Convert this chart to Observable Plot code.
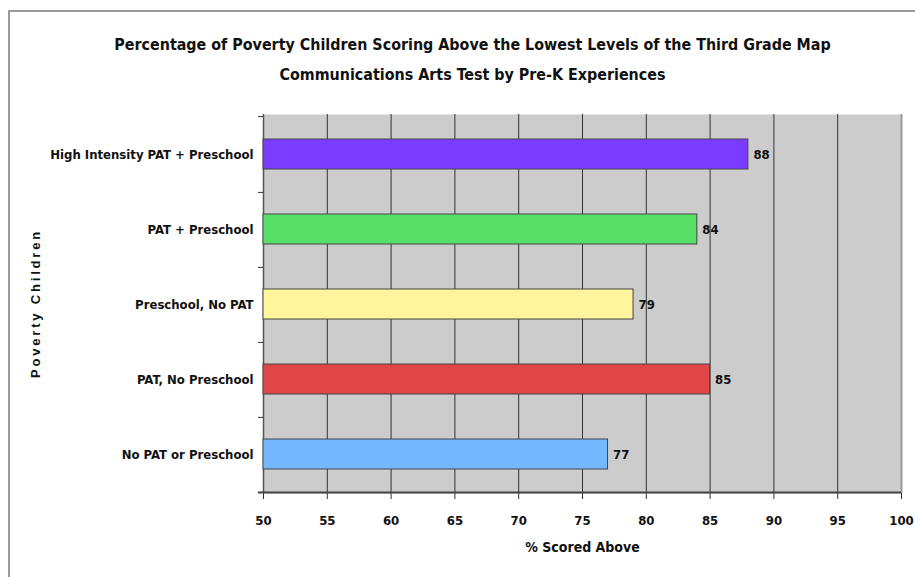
<!DOCTYPE html>
<html>
<head>
<meta charset="utf-8">
<script src="https://cdn.jsdelivr.net/npm/d3@7"></script>
<script src="https://cdn.jsdelivr.net/npm/@observablehq/plot@0.6"></script>
<style>
  html, body { margin: 0; padding: 0; background: #fff; }
  #wrap { position: relative; width: 915px; height: 577px; overflow: hidden; background: #fff; }
  #frame { position: absolute; left: 8px; top: 10px; width: 1000px; height: 700px;
           border-left: 2px solid #9a9a9a; border-top: 2px solid #9a9a9a; box-sizing: border-box; }
  #title { position: absolute; left: 0; width: 945px; top: 30px; text-align: center;
           font-family: "Liberation Sans Narrow", "Arial Narrow", "DejaVu Sans Condensed", sans-serif;
           font-weight: bold; font-size: 15.9px; line-height: 30px; color: #111; }
  #chart { position: absolute; left: 0; top: 0; }
</style>
</head>
<body>
<div id="wrap">
  <div id="frame"></div>
  <div id="chart"></div>
  <div id="title">Percentage of Poverty Children Scoring Above the Lowest Levels of the Third Grade Map<br>Communications Arts Test by Pre-K Experiences</div>
</div>
<script>
const categories = ["High Intensity PAT + Preschool", "PAT + Preschool", "Preschool, No PAT", "PAT, No Preschool", "No PAT or Preschool"];
const values = [88, 84, 79, 85, 77];
const colors = ["#7a3cff", "#58e068", "#fff59c", "#e04646", "#74b8ff"];
const xTicks = [50, 55, 60, 65, 70, 75, 80, 85, 90, 95, 100];

const data = categories.map((c, i) => ({cat: c, value: values[i], color: colors[i]}));

const W = 915, H = 577;
const mL = 263, mR = 14, mT = 114, mB = 84;
const step = (H - mT - mB) / categories.length;
const narrow = '"Liberation Sans Narrow", "Arial Narrow", "DejaVu Sans Condensed", sans-serif';

const plot = Plot.plot({
  width: W,
  height: H,
  marginLeft: mL,
  marginRight: mR,
  marginTop: mT,
  marginBottom: mB,
  style: { fontFamily: narrow, fontSize: "13px", fontWeight: "bold", color: "#111", background: "transparent" },
  x: { domain: [xTicks[0], xTicks[xTicks.length - 1]], ticks: xTicks, label: null },
  y: { domain: categories, paddingInner: 0.6, paddingOuter: 0.3, label: null },
  marks: [
    Plot.frame({ fill: "#cccccc", stroke: null }),
    Plot.gridX(xTicks, { stroke: "#333", strokeOpacity: 1, strokeWidth: 1 }),
    Plot.ruleX([xTicks[xTicks.length - 1]], { stroke: "#999", strokeWidth: 2 }),
    Plot.ruleX([xTicks[0]], { stroke: "#555", strokeWidth: 1.5 }),
    Plot.barX(data, { x1: () => xTicks[0], x2: "value", y: "cat", fill: "color", stroke: "#444", strokeWidth: 1 }),
    Plot.text(data, { x: "value", y: "cat", text: d => String(d.value), textAnchor: "start", dx: 5, fontSize: 13, fill: "#111" }),
    // band boundary ticks on the y axis
    Plot.tickY(categories, { y: d => d, dy: step / 2, dx: -5, insetRight: W - mL - mR - 5, stroke: "#333" }),
    Plot.tickY(categories.slice(0, 1), { y: d => d, dy: -step / 2, dx: -5, insetRight: W - mL - mR - 5, stroke: "#333" }),
    Plot.axisY({ tickSize: 0, tickPadding: 10, fontSize: 13, label: null }),
    Plot.axisX({ ticks: xTicks, tickSize: 6, tickPadding: 16, fontSize: 13, stroke: "#333", label: null }),
    Plot.ruleY([categories[categories.length - 1]], { dy: step / 2, stroke: "#444", strokeWidth: 2, insetLeft: -5 }),
    Plot.text(["% Scored Above"], { frameAnchor: "bottom", dy: 58, fontSize: 14, fill: "#111" })
  ]
});

document.getElementById("chart").appendChild(plot);

// Rotated y-axis title
const svg = d3.select(plot);
svg.append("text")
  .attr("transform", `translate(40, ${mT + (H - mT - mB) / 2}) rotate(-90)`)
  .attr("text-anchor", "middle")
  .attr("font-family", '"Liberation Sans", Arial, sans-serif')
  .attr("font-weight", "bold")
  .attr("font-size", "13px")
  .attr("letter-spacing", "2.8px")
  .attr("fill", "#111")
  .text("Poverty Children");
</script>
</body>
</html>
